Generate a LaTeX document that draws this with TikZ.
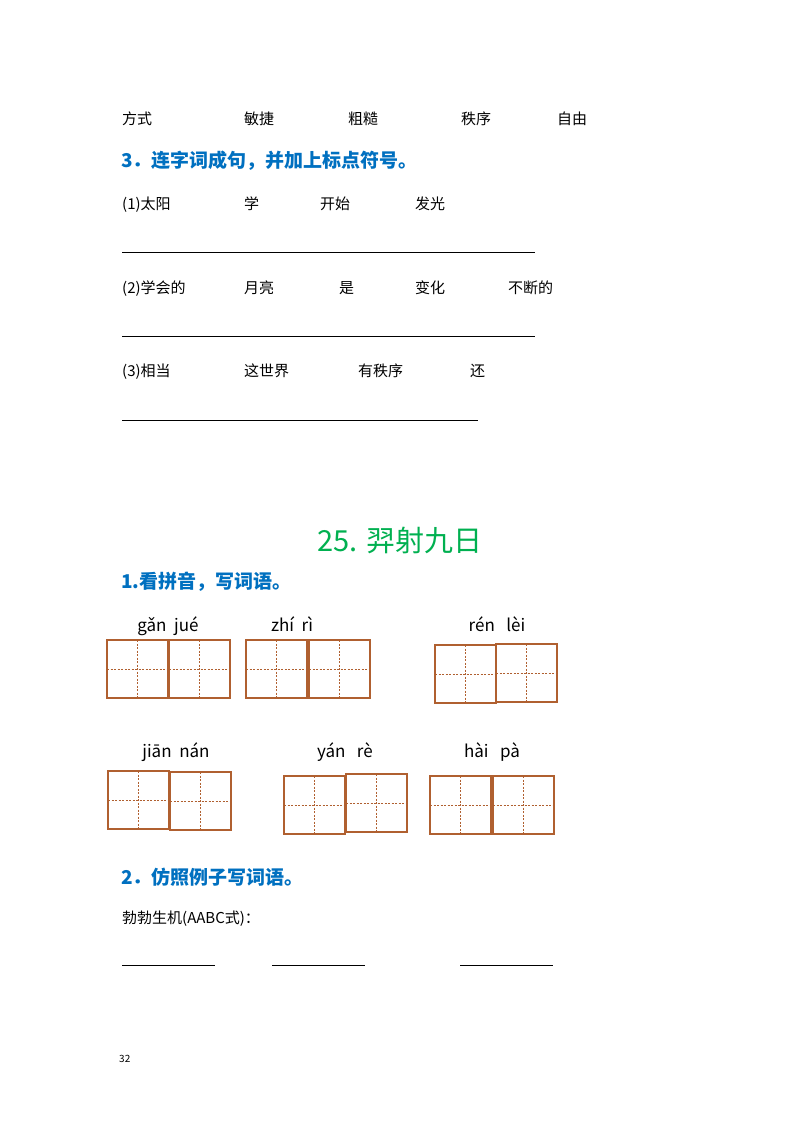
\documentclass[tikz,border=0pt]{standalone}
\usepackage{fontspec}
\setmainfont{Noto Sans CJK SC}
\newfontfamily\cjkb{Noto Sans CJK SC Bold}
\definecolor{hblue}{RGB}{0,112,192}
\definecolor{hgreen}{RGB}{0,176,80}
\definecolor{brn}{RGB}{176,96,48}
\begin{document}
\begin{tikzpicture}[x=1pt,y=-1pt,
 txt/.style={anchor=base west,inner sep=0pt,font=\fontsize{15}{15}\selectfont},
 head/.style={anchor=base west,inner sep=0pt,text=hblue,font=\fontsize{19}{19}\bfseries\selectfont},
 py/.style={anchor=base,inner sep=0pt,font=\fontsize{17}{17}\selectfont},
 ul/.style={line width=0.6pt}]
\useasboundingbox[fill=white] (0,0) rectangle (800,1132);
\newcommand\tzg[3]{%
 \draw[brn,line width=1.6pt] (#1,#2) rectangle ++(61,58);
 \draw[brn,line width=0.6pt,dashed,dash pattern=on 2pt off 1.5pt] (#1+30.5,#2) -- ++(0,58) (#1,#2+29) -- ++(61,0);
 \coordinate (#3) at (#1,#2);}
\node[txt] (w1) at (122,124) {方式};
\node[txt] (w2) at (244,124) {敏捷};
\node[txt] (w3) at (348,124) {粗糙};
\node[txt] (w4) at (461,124) {秩序};
\node[txt] (w5) at (557,124) {自由};
\node[head] (h3) at (121,167) {3．连字词成句，并加上标点符号。};
\node[txt] (a1) at (122,209) {(1)太阳};
\node[txt] (a2) at (244,209) {学};
\node[txt] (a3) at (320,209) {开始};
\node[txt] (a4) at (415,209) {发光};
\draw[ul] (122,252) -- (535,252);
\node[txt] (b1) at (122,293) {(2)学会的};
\node[txt] (b2) at (244,293) {月亮};
\node[txt] (b3) at (339,293) {是};
\node[txt] (b4) at (415,293) {变化};
\node[txt] (b5) at (508,293) {不断的};
\draw[ul] (122,336) -- (535,336);
\node[txt] (c1) at (122,376) {(3)相当};
\node[txt] (c2) at (244,376) {这世界};
\node[txt] (c3) at (358,376) {有秩序};
\node[txt] (c4) at (470,376) {还};
\draw[ul] (122,420) -- (478,420);
\node[anchor=base,inner sep=0pt,text=hgreen,font=\fontsize{29}{29}\selectfont] (title) at (400,551) {25. 羿射九日};
\node[head] (h1) at (121,588) {1.看拼音，写词语。};
\node[py] (p1) at (168,631) {gǎn\ \ jué};
\node[py] (p2) at (292,631) {zhí\ \ rì};
\node[py] (p3) at (497,631) {rén\ \ \ lèi};
\node[py] (p4) at (176,757) {jiān\ \ nán};
\node[py] (p5) at (345,757) {yán\ \ \ rè};
\node[py] (p6) at (492,757) {hài\ \ \ pà};
\tzg{107}{640}{g1}\tzg{169}{640}{g2}\tzg{246}{640}{g3}\tzg{309}{640}{g4}\tzg{435}{645}{g5}\tzg{496}{644}{g6}
\tzg{108}{771}{g7}\tzg{170}{772}{g8}\tzg{284}{776}{g9}\tzg{346}{774}{g10}\tzg{430}{776}{g11}\tzg{493}{776}{g12}
\node[head] (h2) at (121,884) {2．仿照例子写词语。};
\node[txt] (e1) at (122,923) {勃勃生机(AABC式)：};
\draw[ul] (122,965) -- (215,965) (272,965) -- (365,965) (460,965) -- (553,965);
\node[anchor=base west,inner sep=0pt,font=\fontsize{10}{10}\selectfont] (pg) at (119,1062) {32};
\end{tikzpicture}
\end{document}
